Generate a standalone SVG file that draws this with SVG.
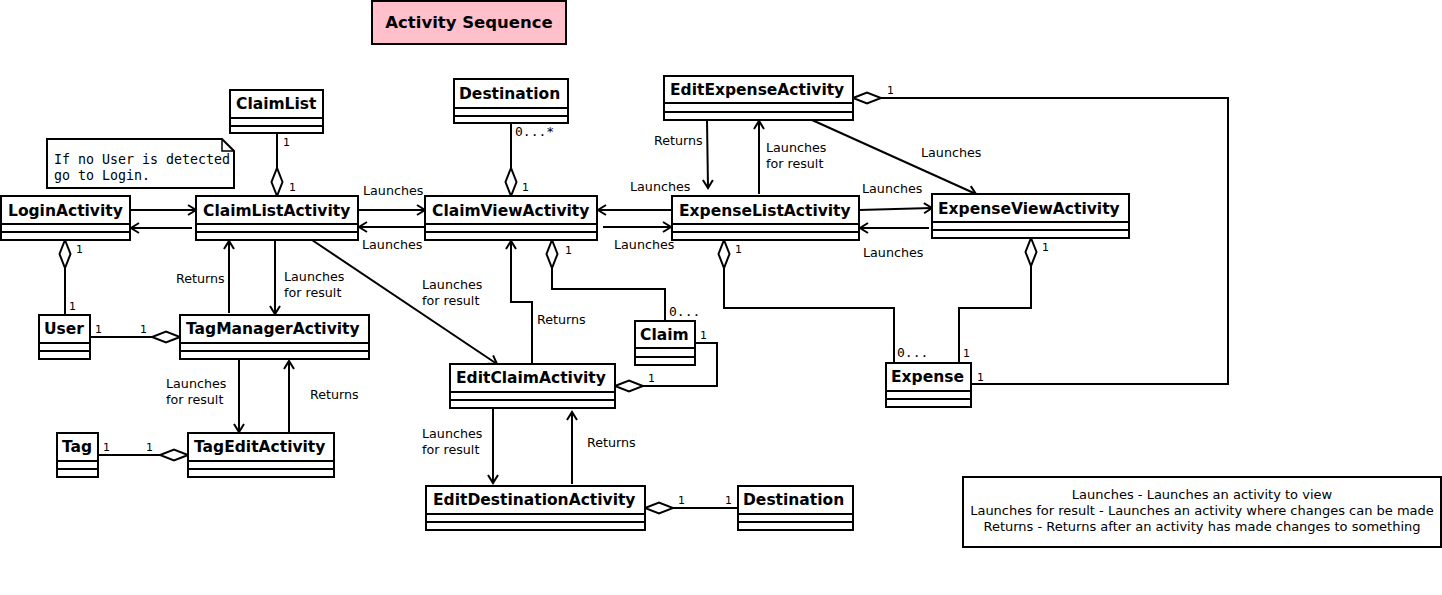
<svg xmlns="http://www.w3.org/2000/svg" width="1442" height="595" viewBox="0 0 1442 595">
<style>
.box{fill:#fff;stroke:#000;stroke-width:2}
.sep{stroke:#000;stroke-width:2}
.name{font-family:"DejaVu Sans",sans-serif;font-weight:bold;font-size:15.5px;fill:#000}
.lbl{font-family:"DejaVu Sans",sans-serif;font-size:12.7px;fill:#000}
.leg{font-family:"DejaVu Sans",sans-serif;font-size:13px;fill:#000}
.m{font-family:"DejaVu Sans",sans-serif;font-size:11px;fill:#000}
.mono{font-family:"DejaVu Sans Mono",monospace;font-size:13px;fill:#000}
.note{font-family:"DejaVu Sans Mono",monospace;font-size:13.3px;fill:#000}
.c{fill:none;stroke:#000;stroke-width:2}
.arr{marker-end:url(#arrow)}
.agg{marker-start:url(#diamond)}
</style>
<defs>
<marker id="arrow" markerUnits="userSpaceOnUse" orient="auto" refX="0" refY="0" markerWidth="20" markerHeight="20" viewBox="-10 -10 20 20" overflow="visible">
<path d="M-8,-5 L0,0 L-8,5" fill="none" stroke="#000" stroke-width="2"/>
</marker>
<marker id="diamond" markerUnits="userSpaceOnUse" orient="auto" refX="0" refY="0" markerWidth="40" markerHeight="20" viewBox="-2 -10 40 20" overflow="visible">
<path d="M0,0 L14,-5.5 L28,0 L14,5.5 Z" fill="#fff" stroke="#000" stroke-width="2"/>
</marker>
</defs>
<rect width="1442" height="595" fill="#fff"/>

<g id="title">
<rect x="372" y="1" width="194" height="43" fill="#FFC0CB" stroke="#000" stroke-width="2"/>
<text x="469" y="28" text-anchor="middle" class="name" style="font-size:16.5px">Activity Sequence</text>
</g>

<g id="connectors">
<path class="c arr" d="M130,210 L196,210"/>
<path class="c arr" d="M192,228 L131,228"/>
<path class="c agg" d="M277,196 L277,133"/>
<path class="c arr" d="M358,210 L425,210"/>
<path class="c arr" d="M425,227 L359,227"/>
<path class="c agg" d="M511,196 L511,123"/>
<path class="c arr" d="M672,210 L598,210"/>
<path class="c arr" d="M603,227 L671,227"/>
<path class="c arr" d="M707,120 L708,188"/>
<path class="c arr" d="M759,194 L759,121"/>
<path class="c arr" d="M812,120 L976,194"/>
<path class="c arr" d="M859,210 L932,208"/>
<path class="c arr" d="M929,228 L860,228"/>
<path class="c agg" d="M853,98 L1228,98 L1228,384 L971,384"/>
<path class="c agg" d="M1031,238 L1031,308 L959,308 L959,363"/>
<path class="c agg" d="M724,240 L724,308 L894,308 L894,363"/>
<path class="c agg" d="M552,240 L552,289 L665,289 L665,321"/>
<path class="c arr" d="M532,364 L532,302 L511,302 L511,241"/>
<path class="c arr" d="M312,240 L497,364"/>
<path class="c agg" d="M615,386 L717,386 L717,343 L695,343"/>
<path class="c arr" d="M493,408 L493,483"/>
<path class="c arr" d="M572,484 L572,412"/>
<path class="c agg" d="M645,508 L738,508"/>
<path class="c agg" d="M65,240 L65,315"/>
<path class="c arr" d="M275,240 L275,314"/>
<path class="c arr" d="M229,313 L229,241"/>
<path class="c agg" d="M180,337 L90,337"/>
<path class="c arr" d="M239,357 L239,432"/>
<path class="c arr" d="M289,433 L289,361"/>
<path class="c agg" d="M188,455 L98,455"/>

<text class="m" x="283" y="146">1</text>
<text class="m" x="289" y="191">1</text>
<text class="lbl" x="363" y="195">Launches</text>
<text class="lbl" x="362" y="249">Launches</text>
<text class="mono" x="515" y="136">0...*</text>
<text class="m" x="522" y="191">1</text>
<text class="lbl" x="630" y="191">Launches</text>
<text class="lbl" x="614" y="249">Launches</text>
<text class="lbl" x="654" y="145">Returns</text>
<text class="lbl" x="766" y="152">Launches</text>
<text class="lbl" x="766" y="168">for result</text>
<text class="lbl" x="921" y="157">Launches</text>
<text class="lbl" x="862" y="193">Launches</text>
<text class="lbl" x="863" y="257">Launches</text>
<text class="m" x="887" y="94">1</text>
<text class="m" x="977" y="381">1</text>
<text class="m" x="1042" y="251">1</text>
<text class="m" x="963" y="357">1</text>
<text class="m" x="735" y="253">1</text>
<text class="mono" x="897" y="357">0...</text>
<text class="m" x="565" y="254">1</text>
<text class="mono" x="669" y="316">0...</text>
<text class="lbl" x="537" y="324">Returns</text>
<text class="lbl" x="422" y="289">Launches</text>
<text class="lbl" x="422" y="305">for result</text>
<text class="m" x="648" y="382">1</text>
<text class="m" x="700" y="339">1</text>
<text class="lbl" x="422" y="438">Launches</text>
<text class="lbl" x="422" y="454">for result</text>
<text class="lbl" x="587" y="447">Returns</text>
<text class="m" x="678" y="504">1</text>
<text class="m" x="725" y="504">1</text>
<text class="m" x="76" y="253">1</text>
<text class="m" x="69" y="310">1</text>
<text class="lbl" x="284" y="281">Launches</text>
<text class="lbl" x="284" y="297">for result</text>
<text class="lbl" x="176" y="283">Returns</text>
<text class="m" x="95" y="333">1</text>
<text class="m" x="140" y="333">1</text>
<text class="lbl" x="166" y="388">Launches</text>
<text class="lbl" x="166" y="404">for result</text>
<text class="lbl" x="310" y="399">Returns</text>
<text class="m" x="103" y="451">1</text>
<text class="m" x="146" y="451">1</text>
</g>

<g id="note">
<path d="M47,139 L222,139 L234,151 L234,188 L47,188 Z" class="box"/>
<path d="M222,139 L222,151 L234,151" fill="none" stroke="#000" stroke-width="1.5"/>
<text class="note" x="54" y="164">If no User is detected</text>
<text class="note" x="54" y="180">go to Login.</text>
</g>

<g id="LoginActivity">
<rect class="box" x="1" y="196" width="129" height="44"/>
<path class="sep" d="M1,224 H130 M1,232 H130"/>
<text class="name" x="8" y="216">LoginActivity</text>
</g>
<g id="ClaimListActivity">
<rect class="box" x="196" y="196" width="162" height="44"/>
<path class="sep" d="M196,224 H358 M196,232 H358"/>
<text class="name" x="203" y="216">ClaimListActivity</text>
</g>
<g id="ClaimList">
<rect class="box" x="230" y="90" width="93" height="43"/>
<path class="sep" d="M230,118 H323 M230,126 H323"/>
<text class="name" x="236" y="109">ClaimList</text>
</g>
<g id="Destination1">
<rect class="box" x="454" y="79" width="114" height="44"/>
<path class="sep" d="M454,108 H568 M454,116 H568"/>
<text class="name" x="459" y="99">Destination</text>
</g>
<g id="ClaimViewActivity">
<rect class="box" x="425" y="196" width="172" height="44"/>
<path class="sep" d="M425,224 H597 M425,232 H597"/>
<text class="name" x="432" y="216">ClaimViewActivity</text>
</g>
<g id="EditExpenseActivity">
<rect class="box" x="664" y="76" width="189" height="44"/>
<path class="sep" d="M664,103 H853 M664,112 H853"/>
<text class="name" x="670" y="95">EditExpenseActivity</text>
</g>
<g id="ExpenseListActivity">
<rect class="box" x="672" y="196" width="187" height="44"/>
<path class="sep" d="M672,224 H859 M672,232 H859"/>
<text class="name" x="679" y="216">ExpenseListActivity</text>
</g>
<g id="ExpenseViewActivity">
<rect class="box" x="932" y="194" width="197" height="44"/>
<path class="sep" d="M932,222 H1129 M932,230 H1129"/>
<text class="name" x="938" y="214">ExpenseViewActivity</text>
</g>
<g id="Expense">
<rect class="box" x="886" y="363" width="85" height="44"/>
<path class="sep" d="M886,391 H971 M886,399 H971"/>
<text class="name" x="891" y="382">Expense</text>
</g>
<g id="User">
<rect class="box" x="39" y="315" width="51" height="44"/>
<path class="sep" d="M39,343 H90 M39,351 H90"/>
<text class="name" x="44" y="334">User</text>
</g>
<g id="TagManagerActivity">
<rect class="box" x="180" y="315" width="189" height="44"/>
<path class="sep" d="M180,343 H369 M180,351 H369"/>
<text class="name" x="186" y="334">TagManagerActivity</text>
</g>
<g id="Tag">
<rect class="box" x="57" y="433" width="41" height="44"/>
<path class="sep" d="M57,461 H98 M57,469 H98"/>
<text class="name" x="62" y="452">Tag</text>
</g>
<g id="TagEditActivity">
<rect class="box" x="188" y="433" width="146" height="44"/>
<path class="sep" d="M188,461 H334 M188,469 H334"/>
<text class="name" x="194" y="452">TagEditActivity</text>
</g>
<g id="Claim">
<rect class="box" x="635" y="321" width="60" height="44"/>
<path class="sep" d="M635,348 H695 M635,357 H695"/>
<text class="name" x="640" y="340">Claim</text>
</g>
<g id="EditClaimActivity">
<rect class="box" x="450" y="364" width="165" height="44"/>
<path class="sep" d="M450,392 H615 M450,400 H615"/>
<text class="name" x="456" y="383">EditClaimActivity</text>
</g>
<g id="EditDestinationActivity">
<rect class="box" x="426" y="486" width="219" height="44"/>
<path class="sep" d="M426,514 H645 M426,522 H645"/>
<text class="name" x="433" y="505">EditDestinationActivity</text>
</g>
<g id="Destination2">
<rect class="box" x="738" y="486" width="115" height="44"/>
<path class="sep" d="M738,514 H853 M738,522 H853"/>
<text class="name" x="743" y="505">Destination</text>
</g>

<g id="legend">
<rect class="box" x="963" y="477" width="478" height="70"/>
<text class="leg" x="1202" y="499" text-anchor="middle">Launches - Launches an activity to view</text>
<text class="leg" x="1202" y="515" text-anchor="middle">Launches for result - Launches an activity where changes can be made</text>
<text class="leg" x="1202" y="531" text-anchor="middle">Returns - Returns after an activity has made changes to something</text>
</g>
</svg>
